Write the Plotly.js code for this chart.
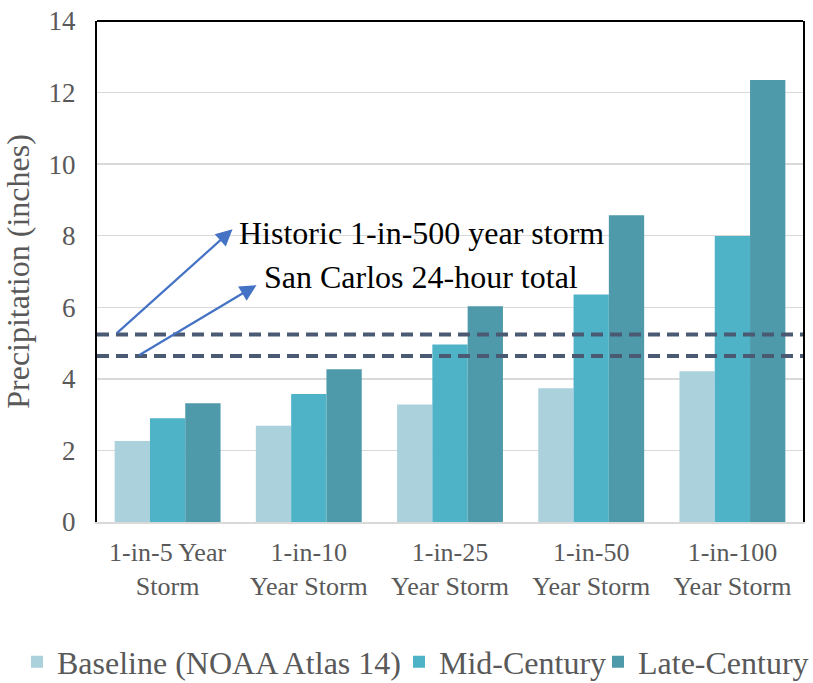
<!DOCTYPE html>
<html>
<head>
<meta charset="utf-8">
<script src="https://cdn.plot.ly/plotly-3.0.1.min.js"></script>
<style>html,body{margin:0;padding:0;background:#fff;}#chart{width:813px;height:683px;}</style>
</head>
<body>
<div id="chart"></div>
<script>
const categories = ["1-in-5 Year<br>Storm", "1-in-10<br>Year Storm", "1-in-25<br>Year Storm", "1-in-50<br>Year Storm", "1-in-100<br>Year Storm"];
const seriesNames = ["Baseline (NOAA Atlas 14)", "Mid-Century", "Late-Century"];
const baseline = [2.26, 2.69, 3.28, 3.74, 4.21];
const midCentury = [2.90, 3.58, 4.96, 6.36, 7.99];
const lateCentury = [3.32, 4.27, 6.03, 8.57, 12.35];
const refLabels = ["Historic 1-in-500 year storm", "San Carlos 24-hour total"];
const refValues = [5.24, 4.64];
const yTicks = [0, 2, 4, 6, 8, 10, 12, 14];

const colors = ["#abd2dc", "#4fb3c8", "#4e9aaa"];
const serif = "'Liberation Serif', 'Times New Roman', serif";
const gray = "#595959";
const legendIds = ["legend", "legend2", "legend3"];

const traces = [baseline, midCentury, lateCentury].map((vals, i) => ({
  type: "bar",
  name: seriesNames[i],
  x: categories,
  y: vals,
  legend: legendIds[i],
  marker: {color: colors[i], line: {width: 0}},
  hoverinfo: "skip"
}));

const shapes = refValues.map(v => ({
  type: "line", xref: "paper", yref: "y", x0: 0, x1: 1, y0: v, y1: v,
  line: {color: "#4a5a72", width: 4, dash: "12px,7px"}, layer: "above"
}));
shapes.push({type: "line", xref: "paper", yref: "paper", x0: 0, x1: 1, y0: 1, y1: 1,
  line: {color: "#000", width: 2}});

// arrow tails at the dashed lines, heads next to the labels
const arrowTails = [[-0.37, refValues[0]], [-0.21, refValues[1]]];
const arrowHeads = [[0.46, 8.18], [0.63, 6.62]];
const labelPos = [[0.49, 8.07], [0.67, 6.84]];

const annotations = [];
refLabels.forEach((t, i) => {
  annotations.push({
    x: arrowHeads[i][0], y: arrowHeads[i][1], xref: "x", yref: "y",
    ax: arrowTails[i][0], ay: arrowTails[i][1], axref: "x", ayref: "y",
    text: "", showarrow: true, arrowhead: 2, arrowsize: 1.5, arrowwidth: 2.2,
    arrowcolor: "#4472c4", standoff: 0, startstandoff: 0
  });
  annotations.push({
    x: labelPos[i][0], y: labelPos[i][1], xref: "x", yref: "y",
    text: t, showarrow: false, xanchor: "left", yanchor: "middle",
    font: {family: serif, size: 32, color: "#000"}
  });
});

// legend positions in paper coordinates (plot spans x 97..803 px, y 21..522 px)
const legendPx = [17, 399, 598];
const legendBox = (px) => ({
  orientation: "h", x: (px - 97) / 706, xanchor: "left", y: (522 - 662) / 501, yanchor: "middle",
  font: {family: serif, size: 32, color: gray}, itemwidth: 30, bgcolor: "rgba(0,0,0,0)"
});

const layout = {
  width: 813, height: 683,
  margin: {l: 97, r: 10, t: 21, b: 161, autoexpand: false},
  paper_bgcolor: "#fff", plot_bgcolor: "#fff",
  barmode: "group", bargap: 0.25, bargroupgap: 0,
  font: {family: serif, color: gray},
  showlegend: true,
  legend: legendBox(legendPx[0]),
  legend2: legendBox(legendPx[1]),
  legend3: legendBox(legendPx[2]),
  xaxis: {
    type: "category", range: [-0.5, 4.5], tickfont: {family: serif, size: 26, color: gray},
    showline: true, linecolor: "#d9d9d9", linewidth: 2, showgrid: false, ticks: "",
    ticklabelstandoff: 6, automargin: false, fixedrange: true
  },
  yaxis: {
    range: [0, 14], tickvals: yTicks, ticktext: yTicks.map(String),
    tickfont: {family: serif, size: 27, color: gray},
    showline: true, linecolor: "#000", linewidth: 2, mirror: true,
    showgrid: true, gridcolor: "#d9d9d9", gridwidth: 1.5, zeroline: false,
    ticks: "", ticklabelstandoff: 14, automargin: false, fixedrange: true,
    title: {text: "Precipitation (inches)", font: {family: serif, size: 32, color: gray}, standoff: 14}
  },
  shapes: shapes,
  annotations: annotations
};

Plotly.newPlot("chart", traces, layout, {displayModeBar: false, staticPlot: true});
</script>
</body>
</html>
